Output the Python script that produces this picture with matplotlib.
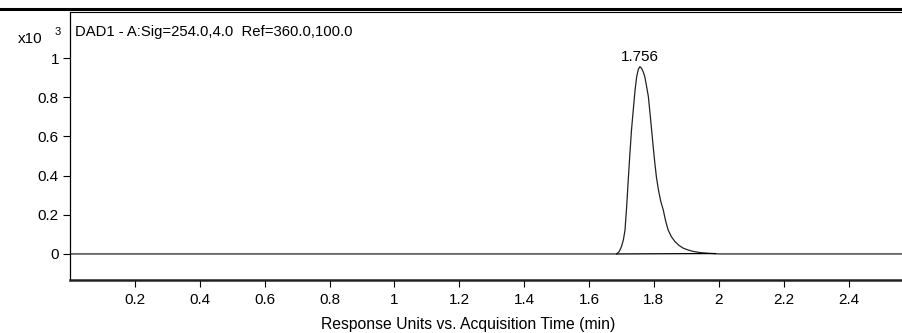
import matplotlib.pyplot as plt
from matplotlib.lines import Line2D

plt.rcParams['font.family'] = ['Liberation Sans', 'DejaVu Sans']

# chromatogram trace (min, response x10^3)
time_min = [0.0, 0.5, 1.0, 1.5, 1.685, 1.693, 1.700, 1.706, 1.711, 1.716, 1.721,
            1.726, 1.731, 1.737, 1.742, 1.747, 1.752, 1.757, 1.762, 1.767, 1.772,
            1.777, 1.783, 1.788, 1.793, 1.798, 1.803, 1.808, 1.814, 1.821, 1.829,
            1.836, 1.844, 1.854, 1.865, 1.878, 1.891, 1.906, 1.921, 1.942, 1.97,
            2.0, 2.2, 2.4, 2.57]
response = [0.0, 0.0, 0.0, 0.0, 0.0, 0.012, 0.037, 0.072, 0.122, 0.240, 0.378,
            0.510, 0.633, 0.745, 0.837, 0.905, 0.942, 0.956, 0.948, 0.930, 0.905,
            0.860, 0.803, 0.720, 0.633, 0.545, 0.463, 0.390, 0.327, 0.270, 0.224,
            0.170, 0.122, 0.088, 0.063, 0.043, 0.029, 0.020, 0.013, 0.007, 0.003,
            0.0, 0.0, 0.0, 0.0]

# integration baseline under the peak
base_time = [1.685, 1.99]
base_resp = [0.0, 0.002]

peak_rt = 1.756
peak_height = 0.956
title = "DAD1 - A:Sig=254.0,4.0  Ref=360.0,100.0"

fig = plt.figure(figsize=(9.03, 3.33), dpi=100)
ax = fig.add_axes([70 / 903, 1 - 280 / 333, 833 / 903, 268 / 333])

ax.plot(time_min, response, color='#222222', lw=0.9)
ax.plot(base_time, base_resp, color='black', lw=0.9)
ax.text(peak_rt, peak_height + 0.012, f"{peak_rt:.3f}", ha='center', va='bottom', fontsize=11)

ax.set_xlim(0, 2.568)
ax.set_ylim(-0.133, 1.235)
ax.set_xticks([0.2, 0.4, 0.6, 0.8, 1.0, 1.2, 1.4, 1.6, 1.8, 2.0, 2.2, 2.4])
ax.set_xticklabels(['0.2', '0.4', '0.6', '0.8', '1', '1.2', '1.4', '1.6', '1.8', '2', '2.2', '2.4'])
ax.set_yticks([0, 0.2, 0.4, 0.6, 0.8, 1.0])
ax.set_yticklabels(['0', '0.2', '0.4', '0.6', '0.8', '1'])
ax.tick_params(axis='both', labelsize=11, length=5, width=0.8, direction='out')
ax.tick_params(axis='y', pad=3)
ax.tick_params(axis='x', pad=4)

ax.spines['right'].set_visible(False)
ax.spines['top'].set_linewidth(0.8)
ax.spines['left'].set_linewidth(0.9)
ax.spines['bottom'].set_linewidth(1.8)
ax.spines['bottom'].set_color('#222222')

ax.set_xlabel("Response Units vs. Acquisition Time (min)", fontsize=11.3, va='center')
ax.xaxis.set_label_coords(0.478, -45 / 268, transform=ax.transAxes)

fig.text(30 / 903, 1 - 39 / 333, "x10", ha='center', va='center', fontsize=11)
fig.text(58 / 903, 1 - 32 / 333, "3", ha='center', va='center', fontsize=8)
fig.text(75 / 903, 1 - 32 / 333, title, ha='left', va='center', fontsize=10.7)

fig.add_artist(Line2D([0, 1], [1 - 9 / 333, 1 - 9 / 333], color='black', lw=2.2,
                      transform=fig.transFigure))

fig.savefig('out.png', dpi=100)
